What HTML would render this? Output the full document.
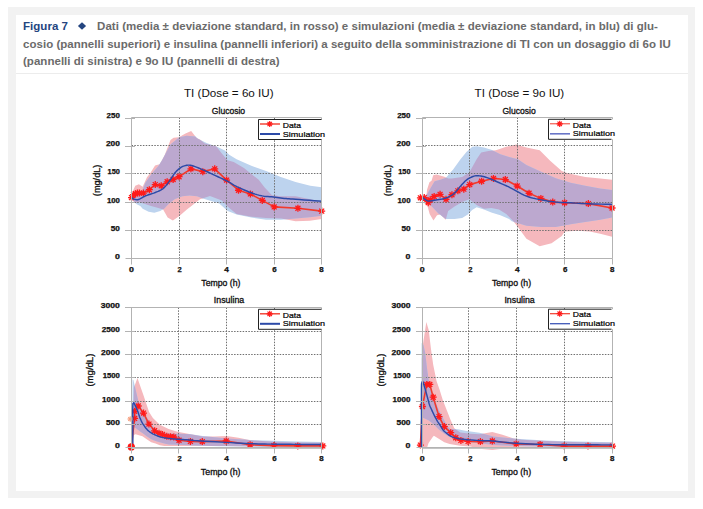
<!DOCTYPE html>
<html><head><meta charset="utf-8"><style>
html,body{margin:0;padding:0;background:#fff;}
body{width:703px;height:509px;position:relative;overflow:hidden;font-family:"Liberation Sans",sans-serif;}
.outer{position:absolute;left:8px;top:7px;width:687px;height:491px;background:#f2f2f2;}
.inner{position:absolute;left:16px;top:15px;width:672px;height:476px;background:#fff;}
.hdr{position:absolute;left:23px;top:18.3px;width:660px;font-weight:bold;font-size:11.5px;letter-spacing:0.03px;line-height:17.6px;color:#6b6b6b;white-space:nowrap;}
.fig{color:#244580;}
.dia{color:#244580;position:absolute;left:55px;top:0px;font-size:9px;}
.sep{position:absolute;left:16px;top:73px;width:672px;height:1px;background:#ececec;}
svg{position:absolute;left:0;top:0;}
svg text{font-family:"Liberation Sans",sans-serif;}
</style></head><body>
<div class="outer"></div>
<div class="inner"></div>
<div class="sep"></div>
<div class="hdr"><span class="fig">Figura 7</span><span style="display:inline-block;width:29.1px;"></span><svg width="10" height="10" viewBox="0 0 10 10" style="position:absolute;left:53.7px;top:3px"><path d="M5,1.2 L9.1,5 L5,8.8 L0.9,5Z" fill="#244580"/></svg>Dati (media ± deviazione standard, in rosso) e simulazioni (media ± deviazione standard, in blu) di glu-<br>cosio (pannelli superiori) e insulina (pannelli inferiori) a seguito della somministrazione di TI con un dosaggio di 6o IU<br>(pannelli di sinistra) e 9o IU (pannelli di destra)</div>
<svg width="703" height="509" viewBox="0 0 703 509">
<clipPath id="pa1"><rect x="127.5" y="117.5" width="198" height="144"/></clipPath>
<clipPath id="bc1"><path d="M131.5,197.59 L136.25,195.33 L142.2,190.82 L145.53,182.59 L149.57,176.72 L153.37,171.81 L158.37,165.89 L162.17,160.03 L170.49,144.57 L179.29,137.24 L186.66,135.77 L195.45,136.51 L197.83,138.71 L206.63,143.11 L217.09,146.83 L224.94,150.44 L229.22,154.72 L236.59,159.24 L251.33,165.78 L266.07,171.08 L280.81,176.89 L295.55,182.02 L310.29,185.74 L321.7,187.21 L321.7,215.64 L309.81,217.33 L295.55,218.46 L280.81,219.81 L266.07,219.81 L251.33,217.61 L236.59,214.62 L227.79,210.9 L219.23,203.62 L202.82,198.38 L197.12,196.18 L189.75,195.5 L182.38,196.18 L175.01,199.11 L169.06,203.62 L164.07,208.7 L160.27,210.9 L154.32,212.7 L148.62,211.69 L142.67,208.7 L140.3,206.05 L136.73,204.36 L134.59,202.21 L131.5,198.72 Z"/></clipPath>
<g clip-path="url(#pa1)">
<path d="M131.5,195.33 L133.4,189.69 L135.3,185.74 L138.87,184.28 L142.67,186.87 L146.95,177.28 L150.52,172.77 L155.04,165.44 L159.55,164.31 L162.17,159.8 L164.78,154.72 L170.49,140.06 L173.58,137.8 L178.81,137.24 L185.47,133.57 L191.18,131.04 L196.41,137.8 L199.97,139.5 L204.73,143.44 L216.14,146.26 L221.84,153.6 L227.55,160.36 L233.73,162.06 L243.96,167.98 L251.33,173.9 L258.7,179.82 L264.64,187.44 L272.01,195.33 L280.81,196.18 L295.55,196.18 L310.29,199.28 L321.7,202.1 L321.7,219.02 L309.81,220.71 L295.55,221.28 L281.28,218.46 L266.07,217.89 L251.33,216.76 L236.59,213.94 L228.98,207.74 L221.84,200.41 L209.96,195.9 L199.97,199.28 L194.27,203.79 L186.9,209.43 L179.05,216.2 L172.87,220.49 L167.64,217.61 L163.12,209.43 L158.37,208.08 L151,206.05 L145.76,204.36 L138.63,202.1 L135.78,203.23 L131.5,199.84 Z" fill="#f5b8bd"/>
<path d="M131.5,197.59 L136.25,195.33 L142.2,190.82 L145.53,182.59 L149.57,176.72 L153.37,171.81 L158.37,165.89 L162.17,160.03 L170.49,144.57 L179.29,137.24 L186.66,135.77 L195.45,136.51 L197.83,138.71 L206.63,143.11 L217.09,146.83 L224.94,150.44 L229.22,154.72 L236.59,159.24 L251.33,165.78 L266.07,171.08 L280.81,176.89 L295.55,182.02 L310.29,185.74 L321.7,187.21 L321.7,215.64 L309.81,217.33 L295.55,218.46 L280.81,219.81 L266.07,219.81 L251.33,217.61 L236.59,214.62 L227.79,210.9 L219.23,203.62 L202.82,198.38 L197.12,196.18 L189.75,195.5 L182.38,196.18 L175.01,199.11 L169.06,203.62 L164.07,208.7 L160.27,210.9 L154.32,212.7 L148.62,211.69 L142.67,208.7 L140.3,206.05 L136.73,204.36 L134.59,202.21 L131.5,198.72 Z" fill="#bdd3ee"/>
<path d="M131.5,195.33 L133.4,189.69 L135.3,185.74 L138.87,184.28 L142.67,186.87 L146.95,177.28 L150.52,172.77 L155.04,165.44 L159.55,164.31 L162.17,159.8 L164.78,154.72 L170.49,140.06 L173.58,137.8 L178.81,137.24 L185.47,133.57 L191.18,131.04 L196.41,137.8 L199.97,139.5 L204.73,143.44 L216.14,146.26 L221.84,153.6 L227.55,160.36 L233.73,162.06 L243.96,167.98 L251.33,173.9 L258.7,179.82 L264.64,187.44 L272.01,195.33 L280.81,196.18 L295.55,196.18 L310.29,199.28 L321.7,202.1 L321.7,219.02 L309.81,220.71 L295.55,221.28 L281.28,218.46 L266.07,217.89 L251.33,216.76 L236.59,213.94 L228.98,207.74 L221.84,200.41 L209.96,195.9 L199.97,199.28 L194.27,203.79 L186.9,209.43 L179.05,216.2 L172.87,220.49 L167.64,217.61 L163.12,209.43 L158.37,208.08 L151,206.05 L145.76,204.36 L138.63,202.1 L135.78,203.23 L131.5,199.84 Z" fill="#bca8cf" clip-path="url(#bc1)"/>
</g>
<path d="M179.5,117.5V258.5M226.5,117.5V258.5M274.5,117.5V258.5M131.5,230.5H321.5M131.5,202.5H321.5M131.5,173.5H321.5M131.5,145.5H321.5" stroke="#707070" stroke-width="1" stroke-dasharray="1.5,1.35" fill="none"/>
<path d="M131.5,197.59 L133.47,194.77 L135.47,193.64 L137.44,193.08 L139.42,193.08 L143.39,193.08 L149.33,189.69 L155.28,184.62 L161.22,185.74 L167.16,181.8 L173.11,179.54 L179.05,176.72 L190.94,168.82 L202.82,171.64 L214.71,168.82 L226.6,180.1 L238.49,190.26 L250.38,193.92 L262.26,200.41 L274.15,206.89 L297.92,208.3 L321.7,211.12" stroke="#f23a2c" stroke-width="1.6" fill="none" stroke-linejoin="round"/>
<path d="M128,197.59H135M131.5,194.09V201.09M129.03,195.11L133.97,200.06M129.03,200.06L133.97,195.11" stroke="#ff1a1a" stroke-width="1.3" fill="none"/>
<path d="M129.97,194.77H136.97M133.47,191.27V198.27M131,192.29L135.95,197.24M131,197.24L135.95,192.29" stroke="#ff1a1a" stroke-width="1.3" fill="none"/>
<path d="M131.97,193.64H138.97M135.47,190.14V197.14M133,191.17L137.95,196.11M133,196.11L137.95,191.17" stroke="#ff1a1a" stroke-width="1.3" fill="none"/>
<path d="M133.94,193.08H140.94M137.44,189.58V196.58M134.97,190.6L139.92,195.55M134.97,195.55L139.92,190.6" stroke="#ff1a1a" stroke-width="1.3" fill="none"/>
<path d="M135.92,193.08H142.92M139.42,189.58V196.58M136.94,190.6L141.89,195.55M136.94,195.55L141.89,190.6" stroke="#ff1a1a" stroke-width="1.3" fill="none"/>
<path d="M139.89,193.08H146.89M143.39,189.58V196.58M140.91,190.6L145.86,195.55M140.91,195.55L145.86,190.6" stroke="#ff1a1a" stroke-width="1.3" fill="none"/>
<path d="M145.83,189.69H152.83M149.33,186.19V193.19M146.86,187.22L151.81,192.17M146.86,192.17L151.81,187.22" stroke="#ff1a1a" stroke-width="1.3" fill="none"/>
<path d="M151.78,184.62H158.78M155.28,181.12V188.12M152.8,182.14L157.75,187.09M152.8,187.09L157.75,182.14" stroke="#ff1a1a" stroke-width="1.3" fill="none"/>
<path d="M157.72,185.74H164.72M161.22,182.24V189.24M158.74,183.27L163.69,188.22M158.74,188.22L163.69,183.27" stroke="#ff1a1a" stroke-width="1.3" fill="none"/>
<path d="M163.66,181.8H170.66M167.16,178.3V185.3M164.69,179.32L169.64,184.27M164.69,184.27L169.64,179.32" stroke="#ff1a1a" stroke-width="1.3" fill="none"/>
<path d="M169.61,179.54H176.61M173.11,176.04V183.04M170.63,177.07L175.58,182.01M170.63,182.01L175.58,177.07" stroke="#ff1a1a" stroke-width="1.3" fill="none"/>
<path d="M175.55,176.72H182.55M179.05,173.22V180.22M176.58,174.25L181.52,179.19M176.58,179.19L181.52,174.25" stroke="#ff1a1a" stroke-width="1.3" fill="none"/>
<path d="M187.44,168.82H194.44M190.94,165.32V172.32M188.46,166.35L193.41,171.3M188.46,171.3L193.41,166.35" stroke="#ff1a1a" stroke-width="1.3" fill="none"/>
<path d="M199.32,171.64H206.32M202.82,168.14V175.14M200.35,169.17L205.3,174.12M200.35,174.12L205.3,169.17" stroke="#ff1a1a" stroke-width="1.3" fill="none"/>
<path d="M211.21,168.82H218.21M214.71,165.32V172.32M212.24,166.35L217.19,171.3M212.24,171.3L217.19,166.35" stroke="#ff1a1a" stroke-width="1.3" fill="none"/>
<path d="M223.1,180.1H230.1M226.6,176.6V183.6M224.13,177.63L229.07,182.58M224.13,182.58L229.07,177.63" stroke="#ff1a1a" stroke-width="1.3" fill="none"/>
<path d="M234.99,190.26H241.99M238.49,186.76V193.76M236.01,187.78L240.96,192.73M236.01,192.73L240.96,187.78" stroke="#ff1a1a" stroke-width="1.3" fill="none"/>
<path d="M246.88,193.92H253.88M250.38,190.42V197.42M247.9,191.45L252.85,196.4M247.9,196.4L252.85,191.45" stroke="#ff1a1a" stroke-width="1.3" fill="none"/>
<path d="M258.76,200.41H265.76M262.26,196.91V203.91M259.79,197.93L264.74,202.88M259.79,202.88L264.74,197.93" stroke="#ff1a1a" stroke-width="1.3" fill="none"/>
<path d="M270.65,206.89H277.65M274.15,203.39V210.39M271.68,204.42L276.62,209.37M271.68,209.37L276.62,204.42" stroke="#ff1a1a" stroke-width="1.3" fill="none"/>
<path d="M294.42,208.3H301.42M297.92,204.8V211.8M295.45,205.83L300.4,210.78M295.45,210.78L300.4,205.83" stroke="#ff1a1a" stroke-width="1.3" fill="none"/>
<path d="M318.2,211.12H325.2M321.7,207.62V214.62M319.23,208.65L324.17,213.6M319.23,213.6L324.17,208.65" stroke="#ff1a1a" stroke-width="1.3" fill="none"/>
<path d="M131.5,197.59 L131.76,197.75 L132.11,197.98 L132.53,198.25 L132.98,198.53 L133.44,198.79 L133.88,199 L134.3,199.17 L134.73,199.32 L135.17,199.45 L135.61,199.56 L136.05,199.63 L136.49,199.67 L136.88,199.71 L137.22,199.73 L137.56,199.73 L137.95,199.67 L138.45,199.53 L139.11,199.28 L139.92,198.89 L140.84,198.37 L141.87,197.77 L143,197.13 L144.22,196.49 L145.53,195.9 L146.98,195.34 L148.6,194.79 L150.31,194.24 L152.04,193.68 L153.72,193.11 L155.28,192.51 L156.71,191.92 L158.1,191.35 L159.44,190.76 L160.72,190.12 L161.95,189.4 L163.12,188.56 L164.22,187.6 L165.24,186.54 L166.21,185.4 L167.15,184.19 L168.1,182.93 L169.06,181.63 L170.06,180.22 L171.05,178.69 L172.04,177.1 L173.03,175.54 L174.02,174.07 L175.01,172.77 L176.01,171.64 L177.02,170.6 L178.04,169.66 L179.04,168.82 L180.02,168.07 L180.95,167.41 L181.85,166.87 L182.73,166.44 L183.58,166.11 L184.4,165.85 L185.19,165.63 L185.94,165.44 L186.65,165.28 L187.31,165.18 L187.94,165.12 L188.54,165.11 L189.14,165.12 L189.75,165.16 L190.3,165.2 L190.77,165.26 L191.23,165.35 L191.77,165.49 L192.43,165.7 L193.31,166 L194.42,166.4 L195.69,166.88 L197.1,167.42 L198.62,168.03 L200.22,168.69 L201.87,169.39 L203.58,170.13 L205.37,170.93 L207.24,171.78 L209.18,172.67 L211.2,173.61 L213.29,174.58 L215.52,175.61 L217.92,176.72 L220.39,177.88 L222.84,179.03 L225.18,180.16 L227.31,181.23 L229.16,182.23 L230.79,183.18 L232.31,184.1 L233.82,185.01 L235.45,185.93 L237.3,186.87 L239.44,187.88 L241.79,188.93 L244.25,189.99 L246.73,191.02 L249.12,191.97 L251.33,192.79 L253.32,193.5 L255.19,194.11 L256.97,194.64 L258.71,195.11 L260.46,195.53 L262.26,195.9 L264.11,196.19 L265.98,196.41 L267.85,196.57 L269.72,196.7 L271.59,196.84 L273.44,197.02 L275.27,197.25 L277.09,197.49 L278.9,197.75 L280.72,198 L282.54,198.23 L284.37,198.43 L286.05,198.59 L287.53,198.72 L289.01,198.82 L290.7,198.94 L292.82,199.08 L295.55,199.28 L299.34,199.57 L304.12,199.93 L309.32,200.32 L314.36,200.7 L318.68,201.03 L321.7,201.25" stroke="#2c4aa8" stroke-width="1.45" fill="none" stroke-linejoin="round"/>

<path d="M131.5,117.5V258.5M125.5,258.5H321.5M321.5,117.5V258.5M131.5,117.5H321.5M125,230.5H135M125,202.5H135M125,173.5H135M125,146.5H135M125,118.5H135M131.5,258.5V264.5M179.5,258.5V264.5M226.5,258.5V264.5M274.5,258.5V264.5M321.5,258.5V264.5" stroke="#b3b3b3" stroke-width="1" fill="none"/>
<clipPath id="pa2"><rect x="418.5" y="117.5" width="198" height="144"/></clipPath>
<clipPath id="bc2"><path d="M422.3,196.46 L427.04,194.2 L430.6,188 L434.63,181.23 L440.33,179.71 L446.02,177.85 L449.1,173.9 L453.14,169.39 L460.49,159.24 L466.42,151.9 L472.35,146.83 L476.86,146.26 L483.97,147.39 L491.33,149.65 L500.34,154.16 L509.12,156.98 L517.89,159.24 L526.43,165.1 L541.14,171.64 L555.84,178.3 L570.55,182.7 L585.26,185.74 L600.2,188.56 L612.06,189.97 L612.06,217.61 L600.2,219.81 L585.26,222.01 L570.55,224.21 L555.84,227.09 L541.14,227.09 L526.43,225.68 L511.72,221.28 L509.12,219.02 L500.34,215.3 L491.33,212.42 L483.97,209.49 L476.62,207.18 L472.11,210 L467.84,214.51 L462.15,217.89 L454.56,219.02 L445.78,219.02 L438.43,213.38 L431.79,206.61 L426.81,202.1 L422.3,198.72 Z"/></clipPath>
<g clip-path="url(#pa2)">
<path d="M422.3,195.33 L426.33,196.46 L427.04,189.69 L429.42,182.36 L431.55,180.67 L433.21,175.31 L436.53,174.46 L444.36,176.72 L448.39,178.41 L451.71,178.41 L462.15,176.89 L469.27,172.38 L476.62,159.24 L481.13,152.58 L488.48,151.11 L495.83,150.32 L506.27,146.83 L516.23,144.57 L526.43,147.39 L539.71,150.32 L550.15,160.7 L561.77,171.08 L567.7,173.34 L585.26,176.89 L600.2,178.41 L612.06,179.82 L612.06,236.67 L600.2,233.68 L589.76,231.43 L577.9,230.86 L564.62,231.43 L561.77,235.94 L551.57,243.27 L539.71,246.32 L526.43,238.87 L517.89,227.09 L513.38,221.22 L506.27,213.94 L498.92,209.49 L491.33,208.02 L483.97,208.7 L476.62,204.92 L469.27,199.28 L462.15,202.1 L454.56,206.5 L448.15,210.9 L445.78,219.81 L440.09,214.62 L437.01,215.3 L433.45,220.49 L429.65,213.94 L427.28,205.31 L422.3,199.84 Z" fill="#f5b8bd"/>
<path d="M422.3,196.46 L427.04,194.2 L430.6,188 L434.63,181.23 L440.33,179.71 L446.02,177.85 L449.1,173.9 L453.14,169.39 L460.49,159.24 L466.42,151.9 L472.35,146.83 L476.86,146.26 L483.97,147.39 L491.33,149.65 L500.34,154.16 L509.12,156.98 L517.89,159.24 L526.43,165.1 L541.14,171.64 L555.84,178.3 L570.55,182.7 L585.26,185.74 L600.2,188.56 L612.06,189.97 L612.06,217.61 L600.2,219.81 L585.26,222.01 L570.55,224.21 L555.84,227.09 L541.14,227.09 L526.43,225.68 L511.72,221.28 L509.12,219.02 L500.34,215.3 L491.33,212.42 L483.97,209.49 L476.62,207.18 L472.11,210 L467.84,214.51 L462.15,217.89 L454.56,219.02 L445.78,219.02 L438.43,213.38 L431.79,206.61 L426.81,202.1 L422.3,198.72 Z" fill="#bdd3ee"/>
<path d="M422.3,195.33 L426.33,196.46 L427.04,189.69 L429.42,182.36 L431.55,180.67 L433.21,175.31 L436.53,174.46 L444.36,176.72 L448.39,178.41 L451.71,178.41 L462.15,176.89 L469.27,172.38 L476.62,159.24 L481.13,152.58 L488.48,151.11 L495.83,150.32 L506.27,146.83 L516.23,144.57 L526.43,147.39 L539.71,150.32 L550.15,160.7 L561.77,171.08 L567.7,173.34 L585.26,176.89 L600.2,178.41 L612.06,179.82 L612.06,236.67 L600.2,233.68 L589.76,231.43 L577.9,230.86 L564.62,231.43 L561.77,235.94 L551.57,243.27 L539.71,246.32 L526.43,238.87 L517.89,227.09 L513.38,221.22 L506.27,213.94 L498.92,209.49 L491.33,208.02 L483.97,208.7 L476.62,204.92 L469.27,199.28 L462.15,202.1 L454.56,206.5 L448.15,210.9 L445.78,219.81 L440.09,214.62 L437.01,215.3 L433.45,220.49 L429.65,213.94 L427.28,205.31 L422.3,199.84 Z" fill="#bca8cf" clip-path="url(#bc2)"/>
</g>
<path d="M469.5,117.5V258.5M517.5,117.5V258.5M564.5,117.5V258.5M422.5,230.5H612.5M422.5,202.5H612.5M422.5,173.5H612.5M422.5,145.5H612.5" stroke="#707070" stroke-width="1" stroke-dasharray="1.5,1.35" fill="none"/>
<path d="M420.4,197.81 L424.27,197.59 L426.26,200.41 L428.23,202.66 L430.2,199.84 L434.16,196.46 L440.09,194.32 L446.02,199.28 L451.95,194.77 L457.88,190.82 L463.81,189.13 L469.74,184.62 L481.6,181.23 L493.46,178.41 L505.32,179.54 L517.18,186.03 L529.04,193.3 L540.9,198.38 L552.76,202.1 L564.62,202.78 L588.34,203.62 L612.06,208.02" stroke="#f23a2c" stroke-width="1.6" fill="none" stroke-linejoin="round"/>
<path d="M416.9,197.81H423.9M420.4,194.31V201.31M417.93,195.34L422.88,200.29M417.93,200.29L422.88,195.34" stroke="#ff1a1a" stroke-width="1.3" fill="none"/>
<path d="M420.77,197.59H427.77M424.27,194.09V201.09M421.79,195.11L426.74,200.06M421.79,200.06L426.74,195.11" stroke="#ff1a1a" stroke-width="1.3" fill="none"/>
<path d="M422.76,200.41H429.76M426.26,196.91V203.91M423.79,197.93L428.74,202.88M423.79,202.88L428.74,197.93" stroke="#ff1a1a" stroke-width="1.3" fill="none"/>
<path d="M424.73,202.66H431.73M428.23,199.16V206.16M425.76,200.19L430.7,205.14M425.76,205.14L430.7,200.19" stroke="#ff1a1a" stroke-width="1.3" fill="none"/>
<path d="M426.7,199.84H433.7M430.2,196.34V203.34M427.72,197.37L432.67,202.32M427.72,202.32L432.67,197.37" stroke="#ff1a1a" stroke-width="1.3" fill="none"/>
<path d="M430.66,196.46H437.66M434.16,192.96V199.96M431.69,193.99L436.63,198.93M431.69,198.93L436.63,193.99" stroke="#ff1a1a" stroke-width="1.3" fill="none"/>
<path d="M436.59,194.32H443.59M440.09,190.82V197.82M437.62,191.84L442.56,196.79M437.62,196.79L442.56,191.84" stroke="#ff1a1a" stroke-width="1.3" fill="none"/>
<path d="M442.52,199.28H449.52M446.02,195.78V202.78M443.55,196.81L448.49,201.75M443.55,201.75L448.49,196.81" stroke="#ff1a1a" stroke-width="1.3" fill="none"/>
<path d="M448.45,194.77H455.45M451.95,191.27V198.27M449.48,192.29L454.42,197.24M449.48,197.24L454.42,192.29" stroke="#ff1a1a" stroke-width="1.3" fill="none"/>
<path d="M454.38,190.82H461.38M457.88,187.32V194.32M455.41,188.35L460.35,193.29M455.41,193.29L460.35,188.35" stroke="#ff1a1a" stroke-width="1.3" fill="none"/>
<path d="M460.31,189.13H467.31M463.81,185.63V192.63M461.34,186.65L466.28,191.6M461.34,191.6L466.28,186.65" stroke="#ff1a1a" stroke-width="1.3" fill="none"/>
<path d="M466.24,184.62H473.24M469.74,181.12V188.12M467.27,182.14L472.21,187.09M467.27,187.09L472.21,182.14" stroke="#ff1a1a" stroke-width="1.3" fill="none"/>
<path d="M478.1,181.23H485.1M481.6,177.73V184.73M479.13,178.76L484.07,183.71M479.13,183.71L484.07,178.76" stroke="#ff1a1a" stroke-width="1.3" fill="none"/>
<path d="M489.96,178.41H496.96M493.46,174.91V181.91M490.99,175.94L495.93,180.89M490.99,180.89L495.93,175.94" stroke="#ff1a1a" stroke-width="1.3" fill="none"/>
<path d="M501.82,179.54H508.82M505.32,176.04V183.04M502.85,177.07L507.79,182.01M502.85,182.01L507.79,177.07" stroke="#ff1a1a" stroke-width="1.3" fill="none"/>
<path d="M513.68,186.03H520.68M517.18,182.53V189.53M514.71,183.55L519.65,188.5M514.71,188.5L519.65,183.55" stroke="#ff1a1a" stroke-width="1.3" fill="none"/>
<path d="M525.54,193.3H532.54M529.04,189.8V196.8M526.57,190.83L531.51,195.78M526.57,195.78L531.51,190.83" stroke="#ff1a1a" stroke-width="1.3" fill="none"/>
<path d="M537.4,198.38H544.4M540.9,194.88V201.88M538.43,195.9L543.37,200.85M538.43,200.85L543.37,195.9" stroke="#ff1a1a" stroke-width="1.3" fill="none"/>
<path d="M549.26,202.1H556.26M552.76,198.6V205.6M550.29,199.63L555.23,204.57M550.29,204.57L555.23,199.63" stroke="#ff1a1a" stroke-width="1.3" fill="none"/>
<path d="M561.12,202.78H568.12M564.62,199.28V206.28M562.15,200.3L567.09,205.25M562.15,205.25L567.09,200.3" stroke="#ff1a1a" stroke-width="1.3" fill="none"/>
<path d="M584.84,203.62H591.84M588.34,200.12V207.12M585.87,201.15L590.81,206.1M585.87,206.1L590.81,201.15" stroke="#ff1a1a" stroke-width="1.3" fill="none"/>
<path d="M608.56,208.02H615.56M612.06,204.52V211.52M609.59,205.55L614.53,210.5M609.59,210.5L614.53,205.55" stroke="#ff1a1a" stroke-width="1.3" fill="none"/>
<path d="M422.3,197.31 L422.89,197.76 L423.69,198.43 L424.64,199.2 L425.71,199.96 L426.84,200.59 L427.99,200.97 L429.19,201.09 L430.48,201.02 L431.83,200.83 L433.23,200.56 L434.64,200.27 L436.06,200.01 L437.51,199.79 L439.03,199.54 L440.56,199.28 L442.08,198.99 L443.51,198.67 L444.83,198.32 L446.03,197.94 L447.14,197.52 L448.18,197.08 L449.17,196.61 L450.1,196.12 L451,195.61 L451.84,195.11 L452.6,194.61 L453.31,194.08 L454.01,193.51 L454.73,192.87 L455.51,192.12 L456.33,191.24 L457.16,190.25 L458.01,189.18 L458.89,188.08 L459.79,186.98 L460.73,185.91 L461.69,184.85 L462.68,183.75 L463.69,182.65 L464.73,181.58 L465.8,180.59 L466.89,179.71 L468.04,178.93 L469.25,178.21 L470.48,177.56 L471.71,177 L472.89,176.53 L474.01,176.16 L475.02,175.9 L475.95,175.74 L476.84,175.68 L477.73,175.7 L478.67,175.77 L479.7,175.87 L480.82,176.03 L481.98,176.24 L483.19,176.5 L484.44,176.82 L485.73,177.2 L487.06,177.62 L488.42,178.11 L489.81,178.67 L491.25,179.29 L492.73,179.94 L494.26,180.61 L495.83,181.29 L497.52,182 L499.35,182.77 L501.21,183.55 L503.04,184.33 L504.76,185.07 L506.27,185.74 L507.45,186.29 L508.35,186.72 L509.13,187.12 L509.96,187.55 L511,188.1 L512.44,188.85 L514.31,189.87 L516.49,191.11 L518.9,192.48 L521.42,193.85 L523.97,195.12 L526.43,196.18 L528.84,197.02 L531.28,197.72 L533.74,198.33 L536.21,198.86 L538.68,199.36 L541.14,199.84 L543.59,200.32 L546.04,200.76 L548.49,201.16 L550.94,201.52 L553.39,201.83 L555.84,202.1 L558.26,202.3 L560.63,202.43 L563,202.52 L565.42,202.58 L567.92,202.66 L570.55,202.78 L573.27,202.93 L576.03,203.11 L578.88,203.29 L581.86,203.47 L585,203.64 L588.34,203.79 L592.22,203.92 L596.69,204.03 L601.31,204.14 L605.69,204.23 L609.41,204.3 L612.06,204.36" stroke="#2c4aa8" stroke-width="1.45" fill="none" stroke-linejoin="round"/>

<path d="M422.5,117.5V258.5M416.5,258.5H612.5M612.5,117.5V258.5M422.5,117.5H612.5M416,230.5H426M416,202.5H426M416,173.5H426M416,146.5H426M416,118.5H426M422.5,258.5V264.5M469.5,258.5V264.5M517.5,258.5V264.5M564.5,258.5V264.5M612.5,258.5V264.5" stroke="#b3b3b3" stroke-width="1" fill="none"/>
<clipPath id="pa3"><rect x="127.5" y="307.5" width="198" height="143"/></clipPath>
<clipPath id="bc3"><path d="M132.57,447.8 L132.57,379.5 L133.4,379.92 L138.16,400.29 L142.2,409.72 L149.57,421.64 L154.56,428.18 L159.55,431.45 L169.3,433.78 L180,433.78 L190.94,434.25 L202.82,436.12 L226.6,438.46 L250.38,440.09 L274.15,440.79 L297.92,441.49 L321.7,442.1 L321.7,446.87 L274.15,446.63 L250.38,446.4 L219.47,446.16 L202.82,445.7 L190.7,445.23 L177.39,444.81 L168.59,444.39 L164.31,443.55 L159.79,442.29 L155.51,441.03 L151.23,439.3 L146.72,436.35 L142.44,432.94 L140.06,431.45 L136.02,428.18 L132.69,426.54 L132.57,447.8 Z"/></clipPath>
<g clip-path="url(#pa3)">
<path d="M132.69,447.8 L133.16,419.77 L133.88,387.72 L137.44,377.91 L143.39,395.01 L149.09,412.01 L152.9,418.09 L159.79,424.86 L168.59,429.11 L177.39,431.68 L190.7,434.25 L202.82,436.59 L214.71,436.59 L226.6,435.89 L238.49,437.76 L250.38,440.32 L274.15,441.73 L297.92,442.43 L321.7,442.66 L321.7,446.63 L297.92,446.63 L274.15,446.63 L250.38,446.4 L226.6,446.12 L202.82,446.02 L179.05,445.93 L164.31,446.12 L159.79,445.23 L155.51,443.55 L151.23,442.29 L146.72,439.3 L142.44,436.35 L135.54,434.2 L133.64,435.05 L133.16,440.79 L132.69,447.8 Z" fill="#f5b8bd"/>
<path d="M132.57,447.8 L132.57,379.5 L133.4,379.92 L138.16,400.29 L142.2,409.72 L149.57,421.64 L154.56,428.18 L159.55,431.45 L169.3,433.78 L180,433.78 L190.94,434.25 L202.82,436.12 L226.6,438.46 L250.38,440.09 L274.15,440.79 L297.92,441.49 L321.7,442.1 L321.7,446.87 L274.15,446.63 L250.38,446.4 L219.47,446.16 L202.82,445.7 L190.7,445.23 L177.39,444.81 L168.59,444.39 L164.31,443.55 L159.79,442.29 L155.51,441.03 L151.23,439.3 L146.72,436.35 L142.44,432.94 L140.06,431.45 L136.02,428.18 L132.69,426.54 L132.57,447.8 Z" fill="#bdd3ee"/>
<path d="M132.69,447.8 L133.16,419.77 L133.88,387.72 L137.44,377.91 L143.39,395.01 L149.09,412.01 L152.9,418.09 L159.79,424.86 L168.59,429.11 L177.39,431.68 L190.7,434.25 L202.82,436.59 L214.71,436.59 L226.6,435.89 L238.49,437.76 L250.38,440.32 L274.15,441.73 L297.92,442.43 L321.7,442.66 L321.7,446.63 L297.92,446.63 L274.15,446.63 L250.38,446.4 L226.6,446.12 L202.82,446.02 L179.05,445.93 L164.31,446.12 L159.79,445.23 L155.51,443.55 L151.23,442.29 L146.72,439.3 L142.44,436.35 L135.54,434.2 L133.64,435.05 L133.16,440.79 L132.69,447.8 Z" fill="#bca8cf" clip-path="url(#bc3)"/>
</g>
<path d="M178.5,307.5V447.5M226.5,307.5V447.5M274.5,307.5V447.5M131.5,424.5H321.5M131.5,401.5H321.5M131.5,377.5H321.5M131.5,354.5H321.5M131.5,331.5H321.5" stroke="#707070" stroke-width="1" stroke-dasharray="1.5,1.35" fill="none"/>
<path d="M131.3,446.9 L134.6,418.4 L134.6,411.3 L138.2,406 L143.5,413.1 L148.95,424.1 L154.6,430.8 L159,433.3 L162.5,434.5 L166.8,436.2 L170.5,436.8 L173.8,437 L179.05,440.3 L190.4,441.4 L202.3,441.6 L226.2,441 L250.1,444.8 L273.9,445.6 L297.8,445.9 L322.8,445.9" stroke="#f23a2c" stroke-width="1.6" fill="none" stroke-linejoin="round"/>
<path d="M127.8,446.9H134.8M131.3,443.4V450.4M128.83,444.43L133.77,449.37M128.83,449.37L133.77,444.43" stroke="#ff1a1a" stroke-width="1.3" fill="none"/>
<path d="M131.1,418.4H138.1M134.6,414.9V421.9M132.13,415.93L137.07,420.87M132.13,420.87L137.07,415.93" stroke="#ff1a1a" stroke-width="1.3" fill="none"/>
<path d="M131.1,411.3H138.1M134.6,407.8V414.8M132.13,408.83L137.07,413.77M132.13,413.77L137.07,408.83" stroke="#ff1a1a" stroke-width="1.3" fill="none"/>
<path d="M134.7,406H141.7M138.2,402.5V409.5M135.73,403.53L140.67,408.47M135.73,408.47L140.67,403.53" stroke="#ff1a1a" stroke-width="1.3" fill="none"/>
<path d="M140,413.1H147M143.5,409.6V416.6M141.03,410.63L145.97,415.57M141.03,415.57L145.97,410.63" stroke="#ff1a1a" stroke-width="1.3" fill="none"/>
<path d="M145.45,424.1H152.45M148.95,420.6V427.6M146.48,421.63L151.42,426.57M146.48,426.57L151.42,421.63" stroke="#ff1a1a" stroke-width="1.3" fill="none"/>
<path d="M151.1,430.8H158.1M154.6,427.3V434.3M152.13,428.33L157.07,433.27M152.13,433.27L157.07,428.33" stroke="#ff1a1a" stroke-width="1.3" fill="none"/>
<path d="M155.5,433.3H162.5M159,429.8V436.8M156.53,430.83L161.47,435.77M156.53,435.77L161.47,430.83" stroke="#ff1a1a" stroke-width="1.3" fill="none"/>
<path d="M159,434.5H166M162.5,431V438M160.03,432.03L164.97,436.97M160.03,436.97L164.97,432.03" stroke="#ff1a1a" stroke-width="1.3" fill="none"/>
<path d="M163.3,436.2H170.3M166.8,432.7V439.7M164.33,433.73L169.27,438.67M164.33,438.67L169.27,433.73" stroke="#ff1a1a" stroke-width="1.3" fill="none"/>
<path d="M167,436.8H174M170.5,433.3V440.3M168.03,434.33L172.97,439.27M168.03,439.27L172.97,434.33" stroke="#ff1a1a" stroke-width="1.3" fill="none"/>
<path d="M170.3,437H177.3M173.8,433.5V440.5M171.33,434.53L176.27,439.47M171.33,439.47L176.27,434.53" stroke="#ff1a1a" stroke-width="1.3" fill="none"/>
<path d="M175.55,440.3H182.55M179.05,436.8V443.8M176.58,437.83L181.52,442.77M176.58,442.77L181.52,437.83" stroke="#ff1a1a" stroke-width="1.3" fill="none"/>
<path d="M186.9,441.4H193.9M190.4,437.9V444.9M187.93,438.93L192.87,443.87M187.93,443.87L192.87,438.93" stroke="#ff1a1a" stroke-width="1.3" fill="none"/>
<path d="M198.8,441.6H205.8M202.3,438.1V445.1M199.83,439.13L204.77,444.07M199.83,444.07L204.77,439.13" stroke="#ff1a1a" stroke-width="1.3" fill="none"/>
<path d="M222.7,441H229.7M226.2,437.5V444.5M223.73,438.53L228.67,443.47M223.73,443.47L228.67,438.53" stroke="#ff1a1a" stroke-width="1.3" fill="none"/>
<path d="M246.6,444.8H253.6M250.1,441.3V448.3M247.63,442.33L252.57,447.27M247.63,447.27L252.57,442.33" stroke="#ff1a1a" stroke-width="1.3" fill="none"/>
<path d="M270.4,445.6H277.4M273.9,442.1V449.1M271.43,443.13L276.37,448.07M271.43,448.07L276.37,443.13" stroke="#ff1a1a" stroke-width="1.3" fill="none"/>
<path d="M294.3,445.9H301.3M297.8,442.4V449.4M295.33,443.43L300.27,448.37M295.33,448.37L300.27,443.43" stroke="#ff1a1a" stroke-width="1.3" fill="none"/>
<path d="M319.3,445.9H326.3M322.8,442.4V449.4M320.33,443.43L325.27,448.37M320.33,448.37L325.27,443.43" stroke="#ff1a1a" stroke-width="1.3" fill="none"/>
<path d="M132.81,447.8 L132.81,445.2 L132.81,441.57 L132.81,437.29 L132.81,432.75 L132.81,428.33 L132.81,424.44 L132.8,420.87 L132.79,417.27 L132.77,413.8 L132.76,410.61 L132.77,407.88 L132.81,405.75 L132.87,404.36 L132.97,403.62 L133.08,403.32 L133.19,403.27 L133.3,403.29 L133.4,403.18 L133.47,402.95 L133.51,402.76 L133.55,402.63 L133.61,402.59 L133.71,402.67 L133.88,402.9 L134.12,403.31 L134.44,403.89 L134.79,404.59 L135.17,405.36 L135.54,406.15 L135.9,406.92 L136.24,407.68 L136.58,408.46 L136.92,409.27 L137.25,410.11 L137.59,410.96 L137.92,411.83 L138.23,412.72 L138.54,413.64 L138.83,414.59 L139.14,415.54 L139.46,416.49 L139.82,417.43 L140.2,418.36 L140.58,419.28 L140.98,420.21 L141.42,421.13 L141.9,422.08 L142.44,423.04 L143.05,424.05 L143.73,425.11 L144.46,426.19 L145.21,427.24 L145.97,428.22 L146.72,429.11 L147.46,429.9 L148.21,430.62 L148.97,431.28 L149.74,431.88 L150.49,432.43 L151.23,432.94 L151.96,433.4 L152.68,433.79 L153.39,434.13 L154.1,434.44 L154.8,434.74 L155.51,435.05 L156.22,435.36 L156.93,435.68 L157.64,435.98 L158.35,436.27 L159.07,436.53 L159.79,436.77 L160.48,436.98 L161.13,437.15 L161.78,437.3 L162.5,437.45 L163.32,437.59 L164.31,437.76 L165.53,437.94 L166.95,438.14 L168.48,438.35 L170.04,438.55 L171.53,438.73 L172.87,438.88 L173.97,438.98 L174.9,439.05 L175.77,439.11 L176.67,439.16 L177.73,439.21 L179.05,439.3 L180.73,439.41 L182.7,439.54 L184.82,439.68 L186.95,439.82 L188.96,439.96 L190.7,440.09 L191.91,440.2 L192.63,440.3 L193.23,440.39 L194.05,440.5 L195.47,440.62 L197.83,440.79 L201.32,441.01 L205.68,441.26 L210.63,441.54 L215.87,441.83 L221.14,442.11 L226.12,442.38 L231,442.64 L236.03,442.92 L241.07,443.18 L245.99,443.43 L250.64,443.65 L254.89,443.83 L258.6,443.95 L261.85,444.02 L264.83,444.07 L267.75,444.1 L270.79,444.12 L274.15,444.16 L277.85,444.2 L281.74,444.25 L285.76,444.29 L289.83,444.33 L293.91,444.36 L297.92,444.39 L302.16,444.41 L306.73,444.43 L311.3,444.45 L315.54,444.46 L319.11,444.47 L321.7,444.48" stroke="#2c4aa8" stroke-width="1.45" fill="none" stroke-linejoin="round"/>
<path d="M127.4,419H133M130.2,416.2V421.8M128.22,417.02L132.18,420.98M128.22,420.98L132.18,417.02" stroke="#f6a080" stroke-width="1.1" fill="none"/><circle cx="131.3" cy="446.9" r="3.6" fill="#ff1a1a"/><path d="M131.5,448.5H321.5" stroke="#c4c4c4" stroke-width="1"/>
<path d="M131.5,307.5V447.5M125.5,447.5H321.5M321.5,307.5V447.5M131.5,307.5H321.5M125,424.5H135M125,401.5H135M125,377.5H135M125,354.5H135M125,331.5H135M125,307.5H135M131.5,447.5V453.5M178.5,447.5V453.5M226.5,447.5V453.5M274.5,447.5V453.5M321.5,447.5V453.5" stroke="#b3b3b3" stroke-width="1" fill="none"/>
<clipPath id="pa4"><rect x="418.5" y="307.5" width="198" height="143"/></clipPath>
<clipPath id="bc4"><path d="M421.59,447.8 L421.59,343.01 L423.49,345.02 L425.15,352.49 L427.04,368.38 L428.7,380.01 L431.79,389.82 L434.63,399.68 L438.67,409.54 L443.65,419.3 L447.44,426.22 L450.29,429.11 L457.88,429.35 L465.23,430.65 L479.47,432.76 L493.46,436.59 L516.23,438.78 L544.93,440.51 L564.62,441.26 L588.34,441.82 L612.06,442.19 L612.06,446.87 L564.62,446.63 L540.9,446.4 L517.18,446.12 L493.46,445 L479.47,443.13 L470.45,442.1 L460.01,440.51 L449.58,436.91 L444.36,433.78 L439.14,429.63 L433.92,424.44 L428.47,420.28 L421.83,417.15 L421.59,447.8 Z"/></clipPath>
<g clip-path="url(#pa4)">
<path d="M421.83,447.8 L421.83,359.03 L422.77,345.48 L426.33,322.12 L428.7,330.07 L431.08,349.69 L433.21,364.64 L436.53,380.99 L439.62,389.82 L442.7,399.68 L446.49,409.54 L450.29,419.3 L454.32,428.22 L460.25,432.38 L470.45,433.78 L479.47,434.3 L492.27,431.92 L502.47,434.81 L512.91,438.22 L521.92,439.86 L540.9,440.79 L564.62,441.73 L588.34,442.43 L612.06,442.66 L612.06,446.87 L564.62,446.87 L540.9,446.87 L517.18,446.87 L502.47,448.73 L492.27,449.9 L479.23,448.73 L470.45,446.4 L460.01,445.7 L449.58,444.06 L444.36,442.19 L439.14,438.97 L433.92,435.84 L432.74,437.05 L428.47,443.13 L427.04,447.8 L421.83,447.8 Z" fill="#f5b8bd"/>
<path d="M421.59,447.8 L421.59,343.01 L423.49,345.02 L425.15,352.49 L427.04,368.38 L428.7,380.01 L431.79,389.82 L434.63,399.68 L438.67,409.54 L443.65,419.3 L447.44,426.22 L450.29,429.11 L457.88,429.35 L465.23,430.65 L479.47,432.76 L493.46,436.59 L516.23,438.78 L544.93,440.51 L564.62,441.26 L588.34,441.82 L612.06,442.19 L612.06,446.87 L564.62,446.63 L540.9,446.4 L517.18,446.12 L493.46,445 L479.47,443.13 L470.45,442.1 L460.01,440.51 L449.58,436.91 L444.36,433.78 L439.14,429.63 L433.92,424.44 L428.47,420.28 L421.83,417.15 L421.59,447.8 Z" fill="#bdd3ee"/>
<path d="M421.83,447.8 L421.83,359.03 L422.77,345.48 L426.33,322.12 L428.7,330.07 L431.08,349.69 L433.21,364.64 L436.53,380.99 L439.62,389.82 L442.7,399.68 L446.49,409.54 L450.29,419.3 L454.32,428.22 L460.25,432.38 L470.45,433.78 L479.47,434.3 L492.27,431.92 L502.47,434.81 L512.91,438.22 L521.92,439.86 L540.9,440.79 L564.62,441.73 L588.34,442.43 L612.06,442.66 L612.06,446.87 L564.62,446.87 L540.9,446.87 L517.18,446.87 L502.47,448.73 L492.27,449.9 L479.23,448.73 L470.45,446.4 L460.01,445.7 L449.58,444.06 L444.36,442.19 L439.14,438.97 L433.92,435.84 L432.74,437.05 L428.47,443.13 L427.04,447.8 L421.83,447.8 Z" fill="#bca8cf" clip-path="url(#bc4)"/>
</g>
<path d="M468.5,307.5V447.5M516.5,307.5V447.5M564.5,307.5V447.5M422.5,424.5H612.5M422.5,401.5H612.5M422.5,377.5H612.5M422.5,354.5H612.5M422.5,331.5H612.5" stroke="#707070" stroke-width="1" stroke-dasharray="1.5,1.35" fill="none"/>
<path d="M420.4,445.1 L422.4,406.5 L426.8,384.4 L429.8,384.4 L433.2,397.2 L439,416.6 L444.3,426.6 L450.7,432.7 L455.8,437.8 L460.9,440.4 L468.1,441.4 L480.4,441.6 L492.3,441 L516.2,443.9 L540.1,444.5 L564.2,446.1 L588,446.1 L612.5,446.1" stroke="#f23a2c" stroke-width="1.6" fill="none" stroke-linejoin="round"/>
<path d="M416.9,445.1H423.9M420.4,441.6V448.6M417.93,442.63L422.87,447.57M417.93,447.57L422.87,442.63" stroke="#ff1a1a" stroke-width="1.3" fill="none"/>
<path d="M418.9,406.5H425.9M422.4,403V410M419.93,404.03L424.87,408.97M419.93,408.97L424.87,404.03" stroke="#ff1a1a" stroke-width="1.3" fill="none"/>
<path d="M423.3,384.4H430.3M426.8,380.9V387.9M424.33,381.93L429.27,386.87M424.33,386.87L429.27,381.93" stroke="#ff1a1a" stroke-width="1.3" fill="none"/>
<path d="M426.3,384.4H433.3M429.8,380.9V387.9M427.33,381.93L432.27,386.87M427.33,386.87L432.27,381.93" stroke="#ff1a1a" stroke-width="1.3" fill="none"/>
<path d="M429.7,397.2H436.7M433.2,393.7V400.7M430.73,394.73L435.67,399.67M430.73,399.67L435.67,394.73" stroke="#ff1a1a" stroke-width="1.3" fill="none"/>
<path d="M435.5,416.6H442.5M439,413.1V420.1M436.53,414.13L441.47,419.07M436.53,419.07L441.47,414.13" stroke="#ff1a1a" stroke-width="1.3" fill="none"/>
<path d="M440.8,426.6H447.8M444.3,423.1V430.1M441.83,424.13L446.77,429.07M441.83,429.07L446.77,424.13" stroke="#ff1a1a" stroke-width="1.3" fill="none"/>
<path d="M447.2,432.7H454.2M450.7,429.2V436.2M448.23,430.23L453.17,435.17M448.23,435.17L453.17,430.23" stroke="#ff1a1a" stroke-width="1.3" fill="none"/>
<path d="M452.3,437.8H459.3M455.8,434.3V441.3M453.33,435.33L458.27,440.27M453.33,440.27L458.27,435.33" stroke="#ff1a1a" stroke-width="1.3" fill="none"/>
<path d="M457.4,440.4H464.4M460.9,436.9V443.9M458.43,437.93L463.37,442.87M458.43,442.87L463.37,437.93" stroke="#ff1a1a" stroke-width="1.3" fill="none"/>
<path d="M464.6,441.4H471.6M468.1,437.9V444.9M465.63,438.93L470.57,443.87M465.63,443.87L470.57,438.93" stroke="#ff1a1a" stroke-width="1.3" fill="none"/>
<path d="M476.9,441.6H483.9M480.4,438.1V445.1M477.93,439.13L482.87,444.07M477.93,444.07L482.87,439.13" stroke="#ff1a1a" stroke-width="1.3" fill="none"/>
<path d="M488.8,441H495.8M492.3,437.5V444.5M489.83,438.53L494.77,443.47M489.83,443.47L494.77,438.53" stroke="#ff1a1a" stroke-width="1.3" fill="none"/>
<path d="M512.7,443.9H519.7M516.2,440.4V447.4M513.73,441.43L518.67,446.37M513.73,446.37L518.67,441.43" stroke="#ff1a1a" stroke-width="1.3" fill="none"/>
<path d="M536.6,444.5H543.6M540.1,441V448M537.63,442.03L542.57,446.97M537.63,446.97L542.57,442.03" stroke="#ff1a1a" stroke-width="1.3" fill="none"/>
<path d="M560.7,446.1H567.7M564.2,442.6V449.6M561.73,443.63L566.67,448.57M561.73,448.57L566.67,443.63" stroke="#ff1a1a" stroke-width="1.3" fill="none"/>
<path d="M584.5,446.1H591.5M588,442.6V449.6M585.53,443.63L590.47,448.57M585.53,448.57L590.47,443.63" stroke="#ff1a1a" stroke-width="1.3" fill="none"/>
<path d="M609,446.1H616M612.5,442.6V449.6M610.03,443.63L614.97,448.57M610.03,448.57L614.97,443.63" stroke="#ff1a1a" stroke-width="1.3" fill="none"/>
<path d="M421.47,447.8 L421.47,444.19 L421.47,439.15 L421.47,433.2 L421.47,426.86 L421.47,420.65 L421.47,415.1 L421.46,409.88 L421.45,404.54 L421.43,399.33 L421.43,394.5 L421.44,390.33 L421.47,387.06 L421.53,384.88 L421.61,383.62 L421.71,383 L421.82,382.77 L421.94,382.65 L422.06,382.39 L422.18,381.99 L422.3,381.65 L422.43,381.43 L422.58,381.38 L422.77,381.56 L423.01,382.02 L423.33,382.86 L423.71,384.05 L424.14,385.47 L424.58,386.99 L425,388.48 L425.38,389.82 L425.72,391.01 L426.04,392.14 L426.35,393.25 L426.65,394.36 L426.96,395.5 L427.28,396.69 L427.63,397.98 L427.98,399.37 L428.35,400.79 L428.71,402.17 L429.07,403.46 L429.42,404.58 L429.73,405.5 L430.02,406.24 L430.31,406.89 L430.6,407.52 L430.93,408.2 L431.31,409.02 L431.76,410 L432.25,411.08 L432.78,412.21 L433.33,413.36 L433.87,414.49 L434.4,415.56 L434.91,416.58 L435.42,417.57 L435.92,418.53 L436.44,419.48 L436.95,420.4 L437.48,421.31 L438.03,422.2 L438.61,423.08 L439.19,423.94 L439.76,424.77 L440.3,425.56 L440.8,426.31 L441.25,427.01 L441.64,427.67 L442.02,428.29 L442.38,428.89 L442.76,429.45 L443.17,430 L443.59,430.5 L444,430.95 L444.42,431.38 L444.88,431.81 L445.4,432.26 L446.02,432.76 L446.74,433.33 L447.53,433.96 L448.39,434.62 L449.31,435.27 L450.26,435.87 L451.24,436.4 L452.25,436.85 L453.32,437.24 L454.43,437.59 L455.56,437.91 L456.72,438.19 L457.88,438.46 L458.98,438.69 L460.02,438.87 L461.08,439.03 L462.25,439.18 L463.6,439.32 L465.23,439.48 L467.22,439.66 L469.52,439.85 L472.01,440.03 L474.57,440.21 L477.1,440.37 L479.47,440.51 L481.55,440.61 L483.43,440.66 L485.26,440.69 L487.23,440.74 L489.51,440.84 L492.27,441.03 L495.57,441.32 L499.26,441.7 L503.26,442.13 L507.48,442.57 L511.83,442.98 L516.23,443.31 L520.84,443.59 L525.78,443.82 L530.85,444.03 L535.86,444.2 L540.62,444.36 L544.93,444.48 L548.69,444.58 L552.01,444.64 L555.09,444.67 L558.09,444.68 L561.21,444.7 L564.62,444.72 L568.34,444.74 L572.23,444.76 L576.23,444.77 L580.28,444.78 L584.34,444.8 L588.34,444.81 L592.57,444.83 L597.13,444.84 L601.68,444.86 L605.91,444.88 L609.48,444.89 L612.06,444.9" stroke="#2c4aa8" stroke-width="1.45" fill="none" stroke-linejoin="round"/>
<path d="M422.5,448.5H612.5" stroke="#c4c4c4" stroke-width="1"/>
<path d="M422.5,307.5V447.5M416.5,447.5H612.5M612.5,307.5V447.5M422.5,307.5H612.5M416,424.5H426M416,401.5H426M416,377.5H426M416,354.5H426M416,331.5H426M416,307.5H426M422.5,447.5V453.5M468.5,447.5V453.5M516.5,447.5V453.5M564.5,447.5V453.5M612.5,447.5V453.5" stroke="#b3b3b3" stroke-width="1" fill="none"/>
<text x="228.8" y="97.4" font-size="11.5" font-weight="normal" text-anchor="middle" fill="#111" textLength="89.6" lengthAdjust="spacingAndGlyphs">TI (Dose = 6o IU)</text>
<text stroke="#111" stroke-width="0.3" x="228.5" y="113.7" font-size="8.4" font-weight="normal" text-anchor="middle" fill="#111" textLength="33.3" lengthAdjust="spacingAndGlyphs">Glucosio</text>
<text stroke="#111" stroke-width="0.3" x="229" y="302.6" font-size="8.2" font-weight="normal" text-anchor="middle" fill="#111" textLength="30.4" lengthAdjust="spacingAndGlyphs">Insulina</text>
<text stroke="#111" stroke-width="0.25" x="117.45" y="258.8" font-size="6.6" font-weight="bold" text-anchor="middle" fill="#111" textLength="4.9" lengthAdjust="spacingAndGlyphs">0</text>
<text stroke="#111" stroke-width="0.25" x="115.35" y="230.8" font-size="6.6" font-weight="bold" text-anchor="middle" fill="#111" textLength="9.1" lengthAdjust="spacingAndGlyphs">50</text>
<text stroke="#111" stroke-width="0.25" x="113.4" y="202.8" font-size="6.6" font-weight="bold" text-anchor="middle" fill="#111" textLength="13" lengthAdjust="spacingAndGlyphs">100</text>
<text stroke="#111" stroke-width="0.25" x="113.75" y="173.8" font-size="6.6" font-weight="bold" text-anchor="middle" fill="#111" textLength="12.3" lengthAdjust="spacingAndGlyphs">150</text>
<text stroke="#111" stroke-width="0.25" x="112.9" y="145.8" font-size="6.6" font-weight="bold" text-anchor="middle" fill="#111" textLength="14" lengthAdjust="spacingAndGlyphs">200</text>
<text stroke="#111" stroke-width="0.25" x="113.25" y="117.8" font-size="6.6" font-weight="bold" text-anchor="middle" fill="#111" textLength="13.3" lengthAdjust="spacingAndGlyphs">250</text>
<text stroke="#111" stroke-width="0.25" x="117.45" y="447.8" font-size="6.6" font-weight="bold" text-anchor="middle" fill="#111" textLength="4.9" lengthAdjust="spacingAndGlyphs">0</text>
<text stroke="#111" stroke-width="0.25" x="112.9" y="424.8" font-size="6.6" font-weight="bold" text-anchor="middle" fill="#111" textLength="14" lengthAdjust="spacingAndGlyphs">500</text>
<text stroke="#111" stroke-width="0.25" x="110.95" y="401.8" font-size="6.6" font-weight="bold" text-anchor="middle" fill="#111" textLength="17.9" lengthAdjust="spacingAndGlyphs">1000</text>
<text stroke="#111" stroke-width="0.25" x="111.3" y="377.8" font-size="6.6" font-weight="bold" text-anchor="middle" fill="#111" textLength="17.2" lengthAdjust="spacingAndGlyphs">1500</text>
<text stroke="#111" stroke-width="0.25" x="110.45" y="354.8" font-size="6.6" font-weight="bold" text-anchor="middle" fill="#111" textLength="18.9" lengthAdjust="spacingAndGlyphs">2000</text>
<text stroke="#111" stroke-width="0.25" x="110.8" y="331.8" font-size="6.6" font-weight="bold" text-anchor="middle" fill="#111" textLength="18.2" lengthAdjust="spacingAndGlyphs">2500</text>
<text stroke="#111" stroke-width="0.25" x="110.35" y="307.8" font-size="6.6" font-weight="bold" text-anchor="middle" fill="#111" textLength="19.1" lengthAdjust="spacingAndGlyphs">3000</text>
<text stroke="#111" stroke-width="0.25" x="131.5" y="271.8" font-size="6.6" font-weight="bold" text-anchor="middle" fill="#111" textLength="4.9" lengthAdjust="spacingAndGlyphs">0</text>
<text stroke="#111" stroke-width="0.25" x="131.5" y="460.8" font-size="6.6" font-weight="bold" text-anchor="middle" fill="#111" textLength="4.9" lengthAdjust="spacingAndGlyphs">0</text>
<text stroke="#111" stroke-width="0.25" x="179.5" y="271.8" font-size="6.6" font-weight="bold" text-anchor="middle" fill="#111" textLength="4.2" lengthAdjust="spacingAndGlyphs">2</text>
<text stroke="#111" stroke-width="0.25" x="179.5" y="460.8" font-size="6.6" font-weight="bold" text-anchor="middle" fill="#111" textLength="4.2" lengthAdjust="spacingAndGlyphs">2</text>
<text stroke="#111" stroke-width="0.25" x="226.5" y="271.8" font-size="6.6" font-weight="bold" text-anchor="middle" fill="#111" textLength="4.6" lengthAdjust="spacingAndGlyphs">4</text>
<text stroke="#111" stroke-width="0.25" x="226.5" y="460.8" font-size="6.6" font-weight="bold" text-anchor="middle" fill="#111" textLength="4.6" lengthAdjust="spacingAndGlyphs">4</text>
<text stroke="#111" stroke-width="0.25" x="274.5" y="271.8" font-size="6.6" font-weight="bold" text-anchor="middle" fill="#111" textLength="4.4" lengthAdjust="spacingAndGlyphs">6</text>
<text stroke="#111" stroke-width="0.25" x="274.5" y="460.8" font-size="6.6" font-weight="bold" text-anchor="middle" fill="#111" textLength="4.4" lengthAdjust="spacingAndGlyphs">6</text>
<text stroke="#111" stroke-width="0.25" x="321.5" y="271.8" font-size="6.6" font-weight="bold" text-anchor="middle" fill="#111" textLength="4.4" lengthAdjust="spacingAndGlyphs">8</text>
<text stroke="#111" stroke-width="0.25" x="321.5" y="460.8" font-size="6.6" font-weight="bold" text-anchor="middle" fill="#111" textLength="4.4" lengthAdjust="spacingAndGlyphs">8</text>
<text stroke="#111" stroke-width="0.3" x="220.9" y="286" font-size="8.2" font-weight="normal" text-anchor="middle" fill="#111" textLength="39.2" lengthAdjust="spacingAndGlyphs">Tempo (h)</text>
<text stroke="#111" stroke-width="0.3" x="220.7" y="475.4" font-size="8.2" font-weight="normal" text-anchor="middle" fill="#111" textLength="39.7" lengthAdjust="spacingAndGlyphs">Tempo (h)</text>
<text transform="translate(100.1,180.4) rotate(-90)" font-size="8.2" font-weight="normal" stroke="#111" stroke-width="0.3" text-anchor="middle" fill="#111" textLength="31.5" lengthAdjust="spacingAndGlyphs">(mg/dL)</text>
<text transform="translate(92.9,370.1) rotate(-90)" font-size="8.2" font-weight="normal" stroke="#111" stroke-width="0.3" text-anchor="middle" fill="#111" textLength="33" lengthAdjust="spacingAndGlyphs">(mg/dL)</text>
<rect x="258.5" y="119.5" width="65" height="20" fill="#fff"/>
<path d="M321.5,119.5H258.5M258.5,119.5V139.5H321.5" stroke="#222" stroke-width="1" fill="none"/>
<path d="M260,124H280" stroke="#f23a2c" stroke-width="1.4"/>
<path d="M266.6,124H272.8M269.7,120.9V127.1M267.51,121.81L271.89,126.19M267.51,126.19L271.89,121.81" stroke="#ff1a1a" stroke-width="1.2" fill="none"/>
<path d="M260,134H280" stroke="#2c4aa8" stroke-width="2"/>
<text x="282.8" y="127.7" font-size="8.1" font-weight="normal" text-anchor="start" fill="#000" textLength="18.2" lengthAdjust="spacingAndGlyphs" stroke="#000" stroke-width="0.22">Data</text>
<text x="282.8" y="136.6" font-size="8.1" font-weight="normal" text-anchor="start" fill="#000" textLength="42.2" lengthAdjust="spacingAndGlyphs" stroke="#000" stroke-width="0.22">Simulation</text>
<rect x="258.5" y="309.3" width="65" height="20" fill="#fff"/>
<path d="M321.5,309.3H258.5M258.5,309.3V329.3H321.5" stroke="#222" stroke-width="1" fill="none"/>
<path d="M260,313.8H280" stroke="#f23a2c" stroke-width="1.4"/>
<path d="M266.6,313.8H272.8M269.7,310.7V316.9M267.51,311.61L271.89,315.99M267.51,315.99L271.89,311.61" stroke="#ff1a1a" stroke-width="1.2" fill="none"/>
<path d="M260,323.8H280" stroke="#2c4aa8" stroke-width="2"/>
<text x="282.8" y="317.5" font-size="8.1" font-weight="normal" text-anchor="start" fill="#000" textLength="18.2" lengthAdjust="spacingAndGlyphs" stroke="#000" stroke-width="0.22">Data</text>
<text x="282.8" y="326.4" font-size="8.1" font-weight="normal" text-anchor="start" fill="#000" textLength="42.2" lengthAdjust="spacingAndGlyphs" stroke="#000" stroke-width="0.22">Simulation</text>
<text x="519.4" y="97.4" font-size="11.5" font-weight="normal" text-anchor="middle" fill="#111" textLength="89.6" lengthAdjust="spacingAndGlyphs">TI (Dose = 9o IU)</text>
<text stroke="#111" stroke-width="0.3" x="519.1" y="113.7" font-size="8.4" font-weight="normal" text-anchor="middle" fill="#111" textLength="33.3" lengthAdjust="spacingAndGlyphs">Glucosio</text>
<text stroke="#111" stroke-width="0.3" x="519.6" y="302.6" font-size="8.2" font-weight="normal" text-anchor="middle" fill="#111" textLength="30.4" lengthAdjust="spacingAndGlyphs">Insulina</text>
<text stroke="#111" stroke-width="0.25" x="408.05" y="258.8" font-size="6.6" font-weight="bold" text-anchor="middle" fill="#111" textLength="4.9" lengthAdjust="spacingAndGlyphs">0</text>
<text stroke="#111" stroke-width="0.25" x="405.95" y="230.8" font-size="6.6" font-weight="bold" text-anchor="middle" fill="#111" textLength="9.1" lengthAdjust="spacingAndGlyphs">50</text>
<text stroke="#111" stroke-width="0.25" x="404" y="202.8" font-size="6.6" font-weight="bold" text-anchor="middle" fill="#111" textLength="13" lengthAdjust="spacingAndGlyphs">100</text>
<text stroke="#111" stroke-width="0.25" x="404.35" y="173.8" font-size="6.6" font-weight="bold" text-anchor="middle" fill="#111" textLength="12.3" lengthAdjust="spacingAndGlyphs">150</text>
<text stroke="#111" stroke-width="0.25" x="403.5" y="145.8" font-size="6.6" font-weight="bold" text-anchor="middle" fill="#111" textLength="14" lengthAdjust="spacingAndGlyphs">200</text>
<text stroke="#111" stroke-width="0.25" x="403.85" y="117.8" font-size="6.6" font-weight="bold" text-anchor="middle" fill="#111" textLength="13.3" lengthAdjust="spacingAndGlyphs">250</text>
<text stroke="#111" stroke-width="0.25" x="408.05" y="447.8" font-size="6.6" font-weight="bold" text-anchor="middle" fill="#111" textLength="4.9" lengthAdjust="spacingAndGlyphs">0</text>
<text stroke="#111" stroke-width="0.25" x="403.5" y="424.8" font-size="6.6" font-weight="bold" text-anchor="middle" fill="#111" textLength="14" lengthAdjust="spacingAndGlyphs">500</text>
<text stroke="#111" stroke-width="0.25" x="401.55" y="401.8" font-size="6.6" font-weight="bold" text-anchor="middle" fill="#111" textLength="17.9" lengthAdjust="spacingAndGlyphs">1000</text>
<text stroke="#111" stroke-width="0.25" x="401.9" y="377.8" font-size="6.6" font-weight="bold" text-anchor="middle" fill="#111" textLength="17.2" lengthAdjust="spacingAndGlyphs">1500</text>
<text stroke="#111" stroke-width="0.25" x="401.05" y="354.8" font-size="6.6" font-weight="bold" text-anchor="middle" fill="#111" textLength="18.9" lengthAdjust="spacingAndGlyphs">2000</text>
<text stroke="#111" stroke-width="0.25" x="401.4" y="331.8" font-size="6.6" font-weight="bold" text-anchor="middle" fill="#111" textLength="18.2" lengthAdjust="spacingAndGlyphs">2500</text>
<text stroke="#111" stroke-width="0.25" x="400.95" y="307.8" font-size="6.6" font-weight="bold" text-anchor="middle" fill="#111" textLength="19.1" lengthAdjust="spacingAndGlyphs">3000</text>
<text stroke="#111" stroke-width="0.25" x="422.3" y="271.8" font-size="6.6" font-weight="bold" text-anchor="middle" fill="#111" textLength="4.9" lengthAdjust="spacingAndGlyphs">0</text>
<text stroke="#111" stroke-width="0.25" x="422.3" y="460.8" font-size="6.6" font-weight="bold" text-anchor="middle" fill="#111" textLength="4.9" lengthAdjust="spacingAndGlyphs">0</text>
<text stroke="#111" stroke-width="0.25" x="470.3" y="271.8" font-size="6.6" font-weight="bold" text-anchor="middle" fill="#111" textLength="4.2" lengthAdjust="spacingAndGlyphs">2</text>
<text stroke="#111" stroke-width="0.25" x="470.3" y="460.8" font-size="6.6" font-weight="bold" text-anchor="middle" fill="#111" textLength="4.2" lengthAdjust="spacingAndGlyphs">2</text>
<text stroke="#111" stroke-width="0.25" x="517.3" y="271.8" font-size="6.6" font-weight="bold" text-anchor="middle" fill="#111" textLength="4.6" lengthAdjust="spacingAndGlyphs">4</text>
<text stroke="#111" stroke-width="0.25" x="517.3" y="460.8" font-size="6.6" font-weight="bold" text-anchor="middle" fill="#111" textLength="4.6" lengthAdjust="spacingAndGlyphs">4</text>
<text stroke="#111" stroke-width="0.25" x="565.3" y="271.8" font-size="6.6" font-weight="bold" text-anchor="middle" fill="#111" textLength="4.4" lengthAdjust="spacingAndGlyphs">6</text>
<text stroke="#111" stroke-width="0.25" x="565.3" y="460.8" font-size="6.6" font-weight="bold" text-anchor="middle" fill="#111" textLength="4.4" lengthAdjust="spacingAndGlyphs">6</text>
<text stroke="#111" stroke-width="0.25" x="612.3" y="271.8" font-size="6.6" font-weight="bold" text-anchor="middle" fill="#111" textLength="4.4" lengthAdjust="spacingAndGlyphs">8</text>
<text stroke="#111" stroke-width="0.25" x="612.3" y="460.8" font-size="6.6" font-weight="bold" text-anchor="middle" fill="#111" textLength="4.4" lengthAdjust="spacingAndGlyphs">8</text>
<text stroke="#111" stroke-width="0.3" x="511.5" y="286" font-size="8.2" font-weight="normal" text-anchor="middle" fill="#111" textLength="39.2" lengthAdjust="spacingAndGlyphs">Tempo (h)</text>
<text stroke="#111" stroke-width="0.3" x="511.3" y="475.4" font-size="8.2" font-weight="normal" text-anchor="middle" fill="#111" textLength="39.7" lengthAdjust="spacingAndGlyphs">Tempo (h)</text>
<text transform="translate(390.7,180.4) rotate(-90)" font-size="8.2" font-weight="normal" stroke="#111" stroke-width="0.3" text-anchor="middle" fill="#111" textLength="31.5" lengthAdjust="spacingAndGlyphs">(mg/dL)</text>
<text transform="translate(383.5,370.1) rotate(-90)" font-size="8.2" font-weight="normal" stroke="#111" stroke-width="0.3" text-anchor="middle" fill="#111" textLength="33" lengthAdjust="spacingAndGlyphs">(mg/dL)</text>
<rect x="548.5" y="119.3" width="65" height="20" fill="#fff"/>
<path d="M611.5,119.3H548.5M548.5,119.3V139.3H611.5" stroke="#222" stroke-width="1" fill="none"/>
<path d="M550,123.8H570" stroke="#f23a2c" stroke-width="1.0"/>
<path d="M556.6,123.8H562.8M559.7,120.7V126.9M557.51,121.61L561.89,125.99M557.51,125.99L561.89,121.61" stroke="#ff1a1a" stroke-width="1.2" fill="none"/>
<path d="M550,133.8H570" stroke="#6a76c8" stroke-width="1.6"/>
<text x="572.8" y="127.5" font-size="8.1" font-weight="normal" text-anchor="start" fill="#000" textLength="18.2" lengthAdjust="spacingAndGlyphs" stroke="#000" stroke-width="0.22">Data</text>
<text x="572.8" y="136.4" font-size="8.1" font-weight="normal" text-anchor="start" fill="#000" textLength="42.2" lengthAdjust="spacingAndGlyphs" stroke="#000" stroke-width="0.22">Simulation</text>
<rect x="548.5" y="309.2" width="65" height="20" fill="#fff"/>
<path d="M611.5,309.2H548.5M548.5,309.2V329.2H611.5" stroke="#222" stroke-width="1" fill="none"/>
<path d="M550,313.7H570" stroke="#f23a2c" stroke-width="1.2"/>
<path d="M556.6,313.7H562.8M559.7,310.6V316.8M557.51,311.51L561.89,315.89M557.51,315.89L561.89,311.51" stroke="#ff1a1a" stroke-width="1.2" fill="none"/>
<path d="M550,323.7H570" stroke="#4058b8" stroke-width="1.3"/>
<text x="572.8" y="317.4" font-size="8.1" font-weight="normal" text-anchor="start" fill="#000" textLength="18.2" lengthAdjust="spacingAndGlyphs" stroke="#000" stroke-width="0.22">Data</text>
<text x="572.8" y="326.3" font-size="8.1" font-weight="normal" text-anchor="start" fill="#000" textLength="42.2" lengthAdjust="spacingAndGlyphs" stroke="#000" stroke-width="0.22">Simulation</text>
</svg>
</body></html>
